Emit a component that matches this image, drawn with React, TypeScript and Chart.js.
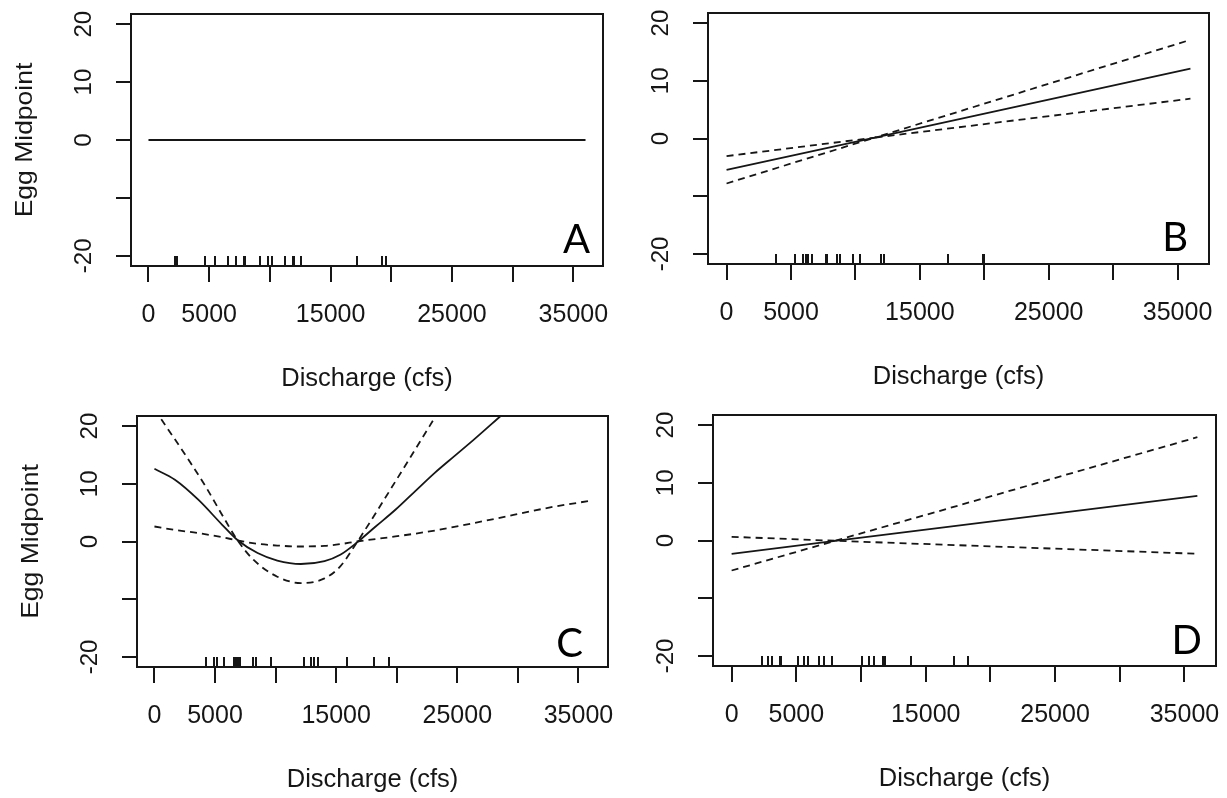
import React, { useEffect, useRef } from "react";
import { Chart, registerables } from "chart.js";

Chart.register(...registerables);

// ---------- shared axis data ----------
const X_TICKS = [0, 5000, 10000, 15000, 20000, 25000, 30000, 35000];
const X_TICK_LABELS = ["0", "5000", "", "15000", "", "25000", "", "35000"];
const Y_TICKS = [20, 10, 0, -10, -20];
const Y_TICK_LABELS = ["20", "10", "0", "", "-20"];
const X_TITLE = "Discharge (cfs)";
const Y_TITLE = "Egg Midpoint";
const X_MIN = -1440;
const X_MAX = 37440;
const Y_MIN = -21.75;
const Y_MAX = 21.75;

// ---------- Panel A ----------
const aX = [0, 36000];
const aFit = [0, 0];
const aRug = [2170, 2390, 4640, 5470, 6540, 7200, 7860, 7940, 9180, 9810, 10190, 11210, 11870, 11980, 12530, 17200, 19200, 19530];

// ---------- Panel B ----------
const bX = [0, 11500, 36000];
const bFit = [-5.45, 0.15, 12.1];
const bUpper = [-3.05, 0.15, 17.1];
const bLower = [-7.8, 0.15, 6.9];
const bRug = [3830, 5300, 5950, 6160, 6310, 6620, 7730, 7810, 8540, 8770, 9830, 10370, 11980, 12210, 17200, 19920, 20000];

// ---------- Panel C ----------
const cFitX = [0, 1690, 3640, 5590, 6825, 8515, 10140, 12090, 14040, 15340, 16700, 18260, 19890, 21510, 23140, 24760, 26390, 28600];
const cFit = [12.6, 10.7, 7.2, 2.9, 0.3, -2.0, -3.3, -3.9, -3.4, -2.3, -0.2, 2.6, 5.5, 8.7, 11.9, 14.8, 17.7, 21.8];
const cSteepX = [0, 1690, 2990, 4290, 5590, 6825, 8190, 10140, 12090, 14040, 15340, 16700, 18260, 19890, 21510, 23300];
const cSteep = [22.9, 17.7, 13.6, 9.3, 4.6, 0.3, -3.2, -6.1, -7.2, -6.4, -4.3, -0.2, 4.9, 10.4, 15.9, 22.0];
const cFlatX = [0, 1690, 3640, 5590, 6825, 8515, 10140, 12090, 14040, 15340, 16700, 19890, 23140, 26390, 29640, 32890, 35810];
const cFlat = [2.6, 2.0, 1.45, 0.75, 0.2, -0.4, -0.7, -0.87, -0.75, -0.46, 0, 0.87, 1.9, 3.2, 4.6, 6.0, 7.0];
const cRug = [4240, 4900, 5170, 5720, 6550, 6660, 6770, 6900, 7040, 8120, 8390, 9600, 12380, 12930, 13200, 13480, 15900, 18130, 19340];

// ---------- Panel D ----------
const dX = [0, 8000, 36000];
const dFit = [-2.3, -0.05, 7.75];
const dSteep = [-5.2, -0.05, 17.9];
const dFlat = [0.64, -0.05, -2.3];
const dRug = [2380, 2820, 3100, 3750, 3850, 5140, 5610, 5870, 6770, 7160, 7730, 10100, 10620, 11010, 11730, 11830, 13850, 17160, 18240];

// ---------- styling ----------
const INK = "#161616";
const FONT = "'Liberation Sans', Arial, Helvetica, sans-serif";
const LETTER_FONT = "Lato, 'Open Sans', sans-serif";

type Series = { x: number[]; y: number[]; dashed: boolean };
type PanelSpec = {
  letter: string;
  frame: { left: number; top: number; w: number; h: number };
  box: { l: number; t: number; r: number; b: number };
  letterInset: { right: number; bottom: number };
  yTitle: boolean;
  smooth: boolean;
  series: Series[];
  rug: number[];
};

const PANELS: PanelSpec[] = [
  {
    letter: "A",
    frame: { left: 0, top: 0, w: 613, h: 399 },
    box: { l: 131, t: 14, r: 603, b: 266 },
    letterInset: { right: 13, bottom: 13 },
    yTitle: true,
    smooth: false,
    series: [{ x: aX, y: aFit, dashed: false }],
    rug: aRug,
  },
  {
    letter: "B",
    frame: { left: 613, top: 0, w: 614, h: 399 },
    box: { l: 95, t: 13, r: 596, b: 264 },
    letterInset: { right: 21, bottom: 13 },
    yTitle: false,
    smooth: false,
    series: [
      { x: bX, y: bFit, dashed: false },
      { x: bX, y: bUpper, dashed: true },
      { x: bX, y: bLower, dashed: true },
    ],
    rug: bRug,
  },
  {
    letter: "C",
    frame: { left: 0, top: 399, w: 613, h: 399 },
    box: { l: 137, t: 17, r: 608, b: 268 },
    letterInset: { right: 25, bottom: 10 },
    yTitle: true,
    smooth: true,
    series: [
      { x: cFitX, y: cFit, dashed: false },
      { x: cSteepX, y: cSteep, dashed: true },
      { x: cFlatX, y: cFlat, dashed: true },
    ],
    rug: cRug,
  },
  {
    letter: "D",
    frame: { left: 613, top: 399, w: 614, h: 399 },
    box: { l: 100, t: 16, r: 603, b: 267 },
    letterInset: { right: 14, bottom: 12 },
    yTitle: false,
    smooth: false,
    series: [
      { x: dX, y: dFit, dashed: false },
      { x: dX, y: dSteep, dashed: true },
      { x: dX, y: dFlat, dashed: true },
    ],
    rug: dRug,
  },
];

function makeAxesPlugin(spec: PanelSpec) {
  return {
    id: "rStyleAxes" + spec.letter,
    afterDraw(chart: any) {
      const { ctx, chartArea: a, scales } = chart;
      const xs = scales.x;
      const ys = scales.y;
      ctx.save();
      ctx.strokeStyle = INK;
      ctx.fillStyle = INK;

      // box
      ctx.lineWidth = 2;
      ctx.strokeRect(a.left, a.top, a.right - a.left, a.bottom - a.top);

      // x axis ticks
      ctx.beginPath();
      X_TICKS.forEach((v) => {
        const px = Math.round(xs.getPixelForValue(v));
        ctx.moveTo(px, a.bottom);
        ctx.lineTo(px, a.bottom + 16);
      });
      // y axis ticks
      Y_TICKS.forEach((v) => {
        const py = Math.round(ys.getPixelForValue(v));
        ctx.moveTo(a.left, py);
        ctx.lineTo(a.left - 15, py);
      });
      ctx.stroke();

      // rug
      ctx.lineWidth = 2;
      ctx.beginPath();
      spec.rug.forEach((v) => {
        const px = Math.round(xs.getPixelForValue(v));
        ctx.moveTo(px, a.bottom);
        ctx.lineTo(px, a.bottom - 10);
      });
      ctx.stroke();

      // x tick labels
      ctx.font = `25px ${FONT}`;
      ctx.textAlign = "center";
      ctx.textBaseline = "alphabetic";
      X_TICKS.forEach((v, i) => {
        const lab = X_TICK_LABELS[i];
        if (!lab) return;
        ctx.fillText(lab, xs.getPixelForValue(v), a.bottom + 56);
      });

      // x title
      ctx.font = `25.5px ${FONT}`;
      ctx.fillText(X_TITLE, (a.left + a.right) / 2, a.bottom + 120);

      // y tick labels (rotated, R style)
      ctx.font = `24px ${FONT}`;
      Y_TICKS.forEach((v, i) => {
        const lab = Y_TICK_LABELS[i];
        if (!lab) return;
        ctx.save();
        ctx.translate(a.left - 40, ys.getPixelForValue(v));
        ctx.rotate(-Math.PI / 2);
        ctx.textAlign = "center";
        ctx.fillText(lab, 0, 0);
        ctx.restore();
      });

      // y title
      if (spec.yTitle) {
        ctx.save();
        ctx.font = `26.5px ${FONT}`;
        ctx.translate(a.left - 99.5, (a.top + a.bottom) / 2);
        ctx.rotate(-Math.PI / 2);
        ctx.scale(1, 0.9);
        ctx.textAlign = "center";
        ctx.fillText(Y_TITLE, 0, 0);
        ctx.restore();
      }

      // panel letter
      ctx.font = `40px ${LETTER_FONT}`;
      ctx.textAlign = "right";
      ctx.fillStyle = "#000";
      ctx.fillText(spec.letter, a.right - spec.letterInset.right, a.bottom - spec.letterInset.bottom);

      ctx.restore();
    },
  };
}

function Panel({ spec }: { spec: PanelSpec }) {
  const ref = useRef<HTMLCanvasElement>(null);
  useEffect(() => {
    const canvas = ref.current;
    if (!canvas) return;
    const { w, h } = spec.frame;
    const b = spec.box;
    const chart = new Chart(canvas, {
      type: "line",
      data: {
        datasets: spec.series.map((s) => ({
          data: s.x.map((xv, i) => ({ x: xv, y: s.y[i] })),
          borderColor: INK,
          borderWidth: 1.8,
          borderDash: s.dashed ? [7, 5] : [],
          pointRadius: 0,
          tension: spec.smooth ? 0.4 : 0,
          cubicInterpolationMode: spec.smooth ? "monotone" : "default",
          fill: false,
          clip: 0,
        })),
      },
      options: {
        animation: false,
        responsive: false,
        maintainAspectRatio: false,
        devicePixelRatio: 1,
        events: [],
        layout: { padding: { left: b.l, top: b.t, right: w - b.r, bottom: h - b.b } },
        scales: {
          x: { type: "linear", min: X_MIN, max: X_MAX, display: false },
          y: { type: "linear", min: Y_MIN, max: Y_MAX, display: false },
        },
        plugins: {
          legend: { display: false },
          tooltip: { enabled: false },
        },
      },
      plugins: [makeAxesPlugin(spec)],
    } as any);
    return () => chart.destroy();
  }, [spec]);
  const f = spec.frame;
  return (
    <canvas
      ref={ref}
      width={f.w}
      height={f.h}
      style={{ position: "absolute", left: f.left, top: f.top, width: f.w, height: f.h }}
    />
  );
}

export default function App() {
  return (
    <div
      style={{
        position: "fixed",
        left: 0,
        top: 0,
        width: 1227,
        height: 798,
        background: "#ffffff",
        overflow: "hidden",
      }}
    >
      {PANELS.map((p) => (
        <Panel key={p.letter} spec={p} />
      ))}
    </div>
  );
}
